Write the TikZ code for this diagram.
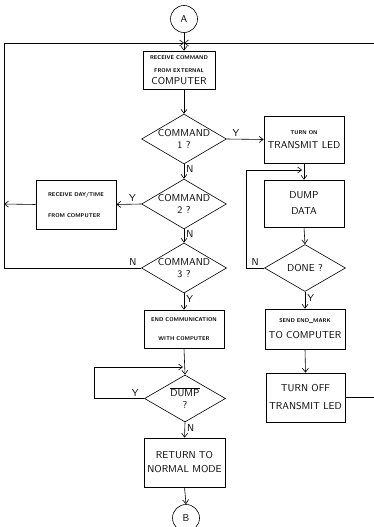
\documentclass[tikz,border=0pt]{standalone}
\usepackage{tikz}
\usetikzlibrary{positioning,arrows.meta,shapes.geometric,calc}

\newcommand{\smalltxt}{\fontsize{5.5}{7}\selectfont\bfseries}
\newcommand{\largetxt}{\fontsize{10}{12}\selectfont}

\tikzset{
  box/.style={draw, rectangle, line width=0.6pt, inner sep=1pt, align=center, font=\sffamily\largetxt},
  decision/.style={draw, diamond, aspect=1.7, inner sep=0pt, minimum width=81pt, minimum height=47pt, align=center, line width=0.6pt, font=\sffamily\largetxt},
  conn/.style={draw, circle, minimum size=27pt, inner sep=0pt, line width=0.6pt, font=\sffamily\largetxt},
  flow/.style={line width=0.6pt, -{Straight Barb[length=4pt,width=6pt]}},
  lbl/.style={font=\sffamily\largetxt, inner sep=2pt},
}

\begin{document}
\begin{tikzpicture}[x=1pt, y=-1pt]
\useasboundingbox (0,0) rectangle (373,527);

% main column
\node[conn] (a) at (184,19) {A};
\node[box, minimum width=72pt, minimum height=38pt] (recv) at (179,70) {{\smalltxt RECEIVE COMMAND}\\[1pt]{\smalltxt FROM EXTERNAL}\\COMPUTER};
\node[decision] (cmdone) at (184,139) {COMMAND\\1 ?};
\node[decision] (cmdtwo) at (184,204) {COMMAND\\2 ?};
\node[box, minimum width=80pt, minimum height=49pt, align=left] (daytime) at (76,204.5) {{\smalltxt RECEIVE DAY/TIME}\\[9pt]{\smalltxt FROM COMPUTER}};
\node[decision] (cmdthree) at (184,268) {COMMAND\\3 ?};
\node[box, minimum width=80pt, minimum height=38pt] (endcom) at (184,329) {{\smalltxt END COMMUNICATION}\\[7pt]{\smalltxt WITH COMPUTER}};
\node[decision] (dump) at (185,398.5) {$\overline{\hbox{DUMP}}$\\?};
\node[box, minimum width=81pt, minimum height=49pt] (normal) at (184.5,462.5) {RETURN TO\\[2pt]NORMAL MODE};
\node[conn] (b) at (186,518) {B};

% right column
\node[box, minimum width=80pt, minimum height=47pt] (ledon) at (304,139.5) {{\smalltxt TURN ON}\\[2pt]TRANSMIT LED};
\node[box, minimum width=80pt, minimum height=47pt] (dumpdata) at (304,203.5) {DUMP\\[4pt]DATA};
\node[decision] (done) at (305,268) {DONE ?};
\node[box, minimum width=80pt, minimum height=40pt] (endmark) at (305,329) {{\smalltxt SEND END\_MARK}\\[4pt]TO COMPUTER};
\node[box, minimum width=79pt, minimum height=49pt] (ledoff) at (305.5,397.5) {TURN OFF\\[6pt]TRANSMIT LED};

% loop corners
\coordinate (topjoin) at (184,43);
\coordinate (lside) at (4,204);
\coordinate (dumploop) at (94,367);
\coordinate (dumpjoin) at (183,367);
\coordinate (doneloop) at (246,170);
\coordinate (datajoin) at (302,170);
\coordinate (rside) at (376,43);

\draw[flow] (a.south) -- (a.south |- recv.north);
\draw[flow] (cmdone.north |- recv.south) -- (cmdone.north);
\draw[flow] (cmdone.east) -- node[lbl, above, pos=0.25] (yone) {Y} (ledon.west);
\draw[flow] (cmdone.south) -- node[lbl, right, pos=0.35] (none) {N} (cmdtwo.north);
\draw[flow] (cmdtwo.west) -- node[lbl, above, pos=0.35] (ytwo) {Y} (daytime.east);
\draw[flow] (daytime.west) -- (lside);
\draw[flow] (cmdtwo.south) -- node[lbl, right, pos=0.35] (ntwo) {N} (cmdthree.north);
\draw[flow] (cmdthree.west) -- node[lbl, above, pos=0.06] (nthree) {N} (cmdthree.west -| lside) |- (topjoin);
\draw[flow] (cmdthree.south) -- node[lbl, right, pos=0.35] (ythree) {Y} (endcom.north);
\draw[flow] (endcom.south) -- (dump.north);
\draw[flow] (dump.west) -- node[lbl, above, pos=0.18] (yfour) {Y} (dump.west -| dumploop) -- (dumploop) -- (dumpjoin);
\draw[flow] (dump.south) -- node[lbl, right, pos=0.4] (nfour) {N} (normal.north);
\draw[flow] (normal.south) -- (b.north);

\draw[flow] (ledon.south) -- (dumpdata.north);
\draw[flow] (dumpdata.south) -- (done.north);
\draw[flow] (done.west) -- node[lbl, above, pos=0.5] (nfive) {N} (done.west -| doneloop) -- (doneloop) -- (datajoin);
\draw[flow] (done.south) -- node[lbl, right, pos=0.35] (yfive) {Y} (endmark.north);
\draw[flow] (endmark.south) -- (ledoff.north);
\draw[flow] (ledoff.east) -- (ledoff.east -| rside) -- (rside) -- (topjoin);

\end{tikzpicture}
\end{document}
